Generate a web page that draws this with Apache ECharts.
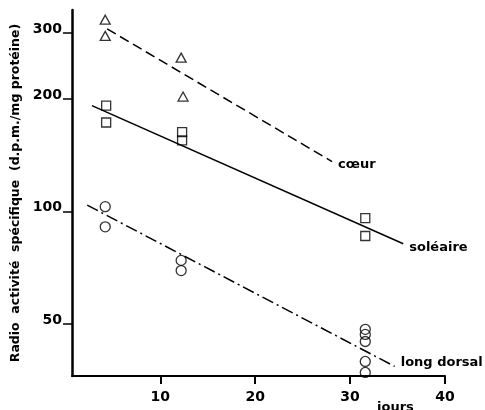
<!DOCTYPE html>
<html>
<head>
<meta charset="utf-8">
<script src="https://cdn.jsdelivr.net/npm/echarts@6/dist/echarts.min.js"></script>
<style>html,body{margin:0;padding:0;background:#fff}#c{width:485px;height:410px}</style>
</head>
<body>
<div id="c"></div>
<script>
// ---- data ----
const xTicks = [10, 20, 30, 40];
const yTicks = [50, 100, 200, 300];

const coeurX = [4.2, 4.2, 12.2, 12.4];
const coeurY = [326, 295, 258, 203];
const soleaireX = [4.3, 4.3, 12.3, 12.3, 31.6, 31.6];
const soleaireY = [192, 173, 163, 155, 96, 86];
const dorsalX = [4.2, 4.2, 12.2, 12.2, 31.6, 31.6, 31.6, 31.6, 31.6];
const dorsalY = [103, 91, 74, 69.5, 48.4, 46.9, 44.9, 39.7, 37.1];

const coeurLineX = [4.4, 28.1];
const coeurLineY = [308, 136];
const soleaireLineX = [2.8, 35.6];
const soleaireLineY = [192, 82];
const dorsalLineX = [2.3, 34.7];
const dorsalLineY = [104, 38.5];

const lineNames = ['cœur', 'soléaire', 'long dorsal'];

// ---- build ----
const font = 'DejaVu Sans';
function pts(xs, ys) { return xs.map((x, i) => [x, ys[i]]); }
function endLabel(name, dy) {
  return { show: true, formatter: name, distance: 6, offset: [0, dy],
    fontFamily: font, fontWeight: 'bold', fontSize: 13, color: '#000' };
}
const markerStyle = { color: 'rgba(0,0,0,0)', borderColor: '#000', borderWidth: 1.3 };

const chart = echarts.init(document.getElementById('c'));
chart.setOption({
  animation: false,
  backgroundColor: '#fff',
  grid: { left: 72, right: 40, top: 10, bottom: 34 },
  xAxis: {
    type: 'value', min: 0.7, max: 40,
    axisLine: { show: true, lineStyle: { color: '#000', width: 2 } },
    axisTick: { show: true, customValues: xTicks, length: 8, lineStyle: { color: '#000', width: 2 } },
    axisLabel: { customValues: xTicks, margin: 14, color: '#000', fontFamily: font, fontWeight: 'bold', fontSize: 14 },
    splitLine: { show: false }
  },
  yAxis: {
    type: 'log', logBase: 10, min: 36.3, max: 346,
    name: 'Radio  activité  spécifique  (d.p.m./mg protéine)',
    nameLocation: 'middle', nameGap: 48, nameRotate: 90,
    nameTextStyle: { color: '#000', fontFamily: font, fontWeight: 'bold', fontSize: 12.5 },
    axisLine: { show: true, lineStyle: { color: '#000', width: 2.5 } },
    axisTick: { show: true, customValues: yTicks, length: 9, lineStyle: { color: '#000', width: 1.5 } },
    axisLabel: { customValues: yTicks, margin: 10, verticalAlign: 'bottom', color: '#000', fontFamily: font, fontWeight: 'bold', fontSize: 14, padding: [0, 0, -3, 0] },
    splitLine: { show: false }
  },
  series: [
    { type: 'line', data: pts(coeurLineX, coeurLineY), symbol: 'none', endLabel: endLabel(lineNames[0], 3),
      lineStyle: { color: '#000', width: 1.5, type: [10, 5] } },
    { type: 'line', data: pts(soleaireLineX, soleaireLineY), symbol: 'none', endLabel: endLabel(lineNames[1], 4),
      lineStyle: { color: '#000', width: 1.5, type: 'solid' } },
    { type: 'line', data: pts(dorsalLineX, dorsalLineY), symbol: 'none', endLabel: endLabel(lineNames[2], -4),
      lineStyle: { color: '#000', width: 1.5, type: [12, 4, 2, 4] } },
    { type: 'scatter', data: pts(coeurX, coeurY), symbol: 'triangle', symbolSize: [10, 9], itemStyle: markerStyle },
    { type: 'scatter', data: pts(soleaireX, soleaireY), symbol: 'rect', symbolSize: 9, itemStyle: markerStyle },
    { type: 'scatter', data: pts(dorsalX, dorsalY), symbol: 'circle', symbolSize: 10, itemStyle: markerStyle }
  ],
  graphic: [
    { type: 'text', left: 377, top: 401, style: { text: 'jours', fill: '#000', font: 'bold 13px "DejaVu Sans"' } }
  ]
});
</script>
</body>
</html>
